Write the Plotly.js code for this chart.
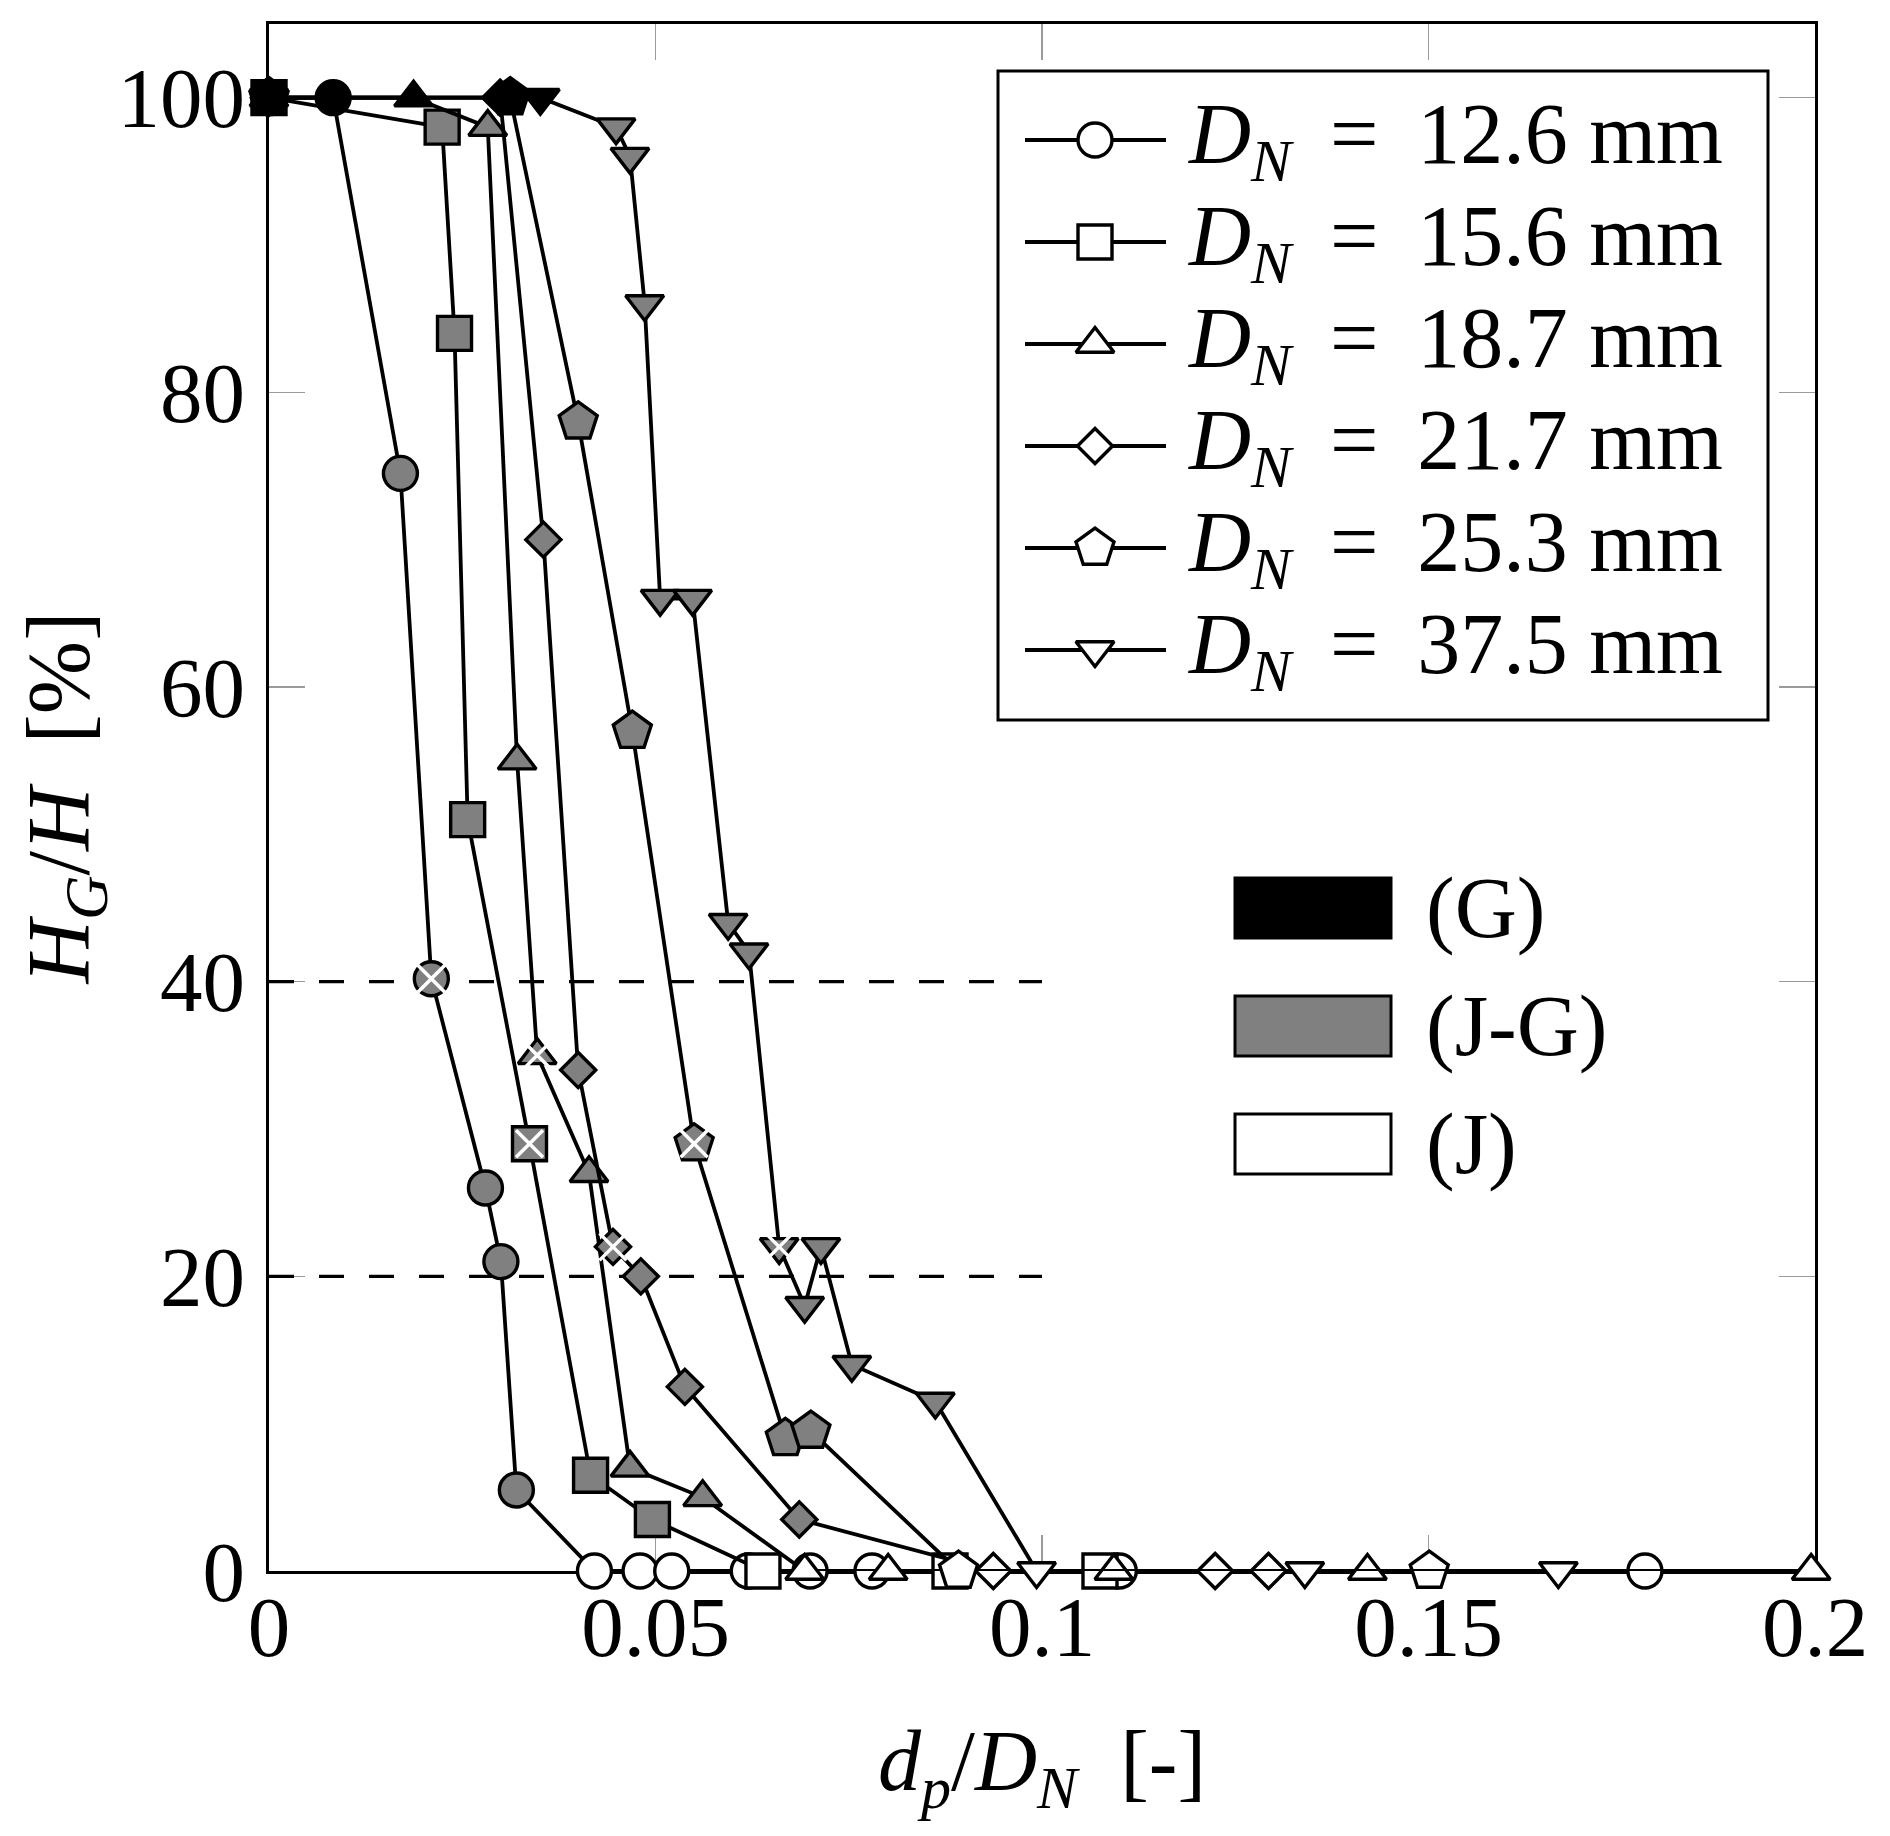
<!DOCTYPE html>
<html>
<head>
<meta charset="utf-8">
<script src="https://cdn.plot.ly/plotly-3.0.1.min.js"></script>
<style>
  html, body { margin: 0; padding: 0; background: #ffffff; }
  #chart { width: 1890px; height: 1836px; }
</style>
</head>
<body>
<div id="chart"></div>
<script>
// ---------------------------------------------------------------
// Gas fraction H_G/H versus particle-to-nozzle diameter ratio d_p/D_N
// Regimes: G = gas, JG = jet-gas transition, J = jet
// ---------------------------------------------------------------

// D_N = 12.6 mm
const x126 = [0, 0.0083, 0.0170, 0.0210, 0.0280, 0.0300, 0.0320, 0.0421, 0.0480, 0.0521, 0.0620, 0.0700, 0.0780, 0.1100, 0.1780];
const y126 = [100, 100, 74.5, 40.2, 26, 21, 5.5, 0, 0, 0, 0, 0, 0, 0, 0];
const regime126 = ['G', 'G', 'JG', 'JG', 'JG', 'JG', 'JG', 'J', 'J', 'J', 'J', 'J', 'J', 'J', 'J'];
const crossed126 = [3];

// D_N = 15.6 mm
const x156 = [0, 0.0224, 0.0240, 0.0257, 0.0337, 0.0416, 0.0496, 0.0639, 0.0881, 0.1075];
const y156 = [100, 98, 84, 51, 29, 6.5, 3.5, 0, 0, 0];
const regime156 = ['G', 'JG', 'JG', 'JG', 'JG', 'JG', 'JG', 'J', 'J', 'J'];
const crossed156 = [4];

// D_N = 18.7 mm
const x187 = [0, 0.0187, 0.0283, 0.0321, 0.0347, 0.0414, 0.0467, 0.0561, 0.0693, 0.0801, 0.1093, 0.1421, 0.1995];
const y187 = [100, 100, 98, 55, 35, 27, 7, 5, 0, 0, 0, 0, 0];
const regime187 = ['G', 'G', 'JG', 'JG', 'JG', 'JG', 'JG', 'JG', 'J', 'J', 'J', 'J', 'J'];
const crossed187 = [4];

// D_N = 21.7 mm
const x217 = [0, 0.0299, 0.0355, 0.0400, 0.0445, 0.0481, 0.0538, 0.0686, 0.0937, 0.1224, 0.1293];
const y217 = [100, 100, 70, 34, 22, 20, 12.5, 3.5, 0, 0, 0];
const regime217 = ['G', 'G', 'JG', 'JG', 'JG', 'JG', 'JG', 'JG', 'J', 'J', 'J'];
const crossed217 = [4];

// D_N = 25.3 mm
const x253 = [0, 0.0312, 0.0400, 0.0470, 0.0550, 0.0668, 0.0701, 0.0892, 0.1501];
const y253 = [100, 100, 78, 57, 29, 9, 9.5, 0, 0];
const regime253 = ['G', 'G', 'JG', 'JG', 'JG', 'JG', 'JG', 'J', 'J'];
const crossed253 = [4];

// D_N = 37.5 mm
const x375 = [0, 0.0351, 0.0449, 0.0467, 0.0486, 0.0506, 0.0548, 0.0594, 0.0621, 0.0660, 0.0693, 0.0714, 0.0754, 0.0862, 0.0993, 0.1340, 0.1668];
const y375 = [100, 100, 98, 96, 86, 66, 66, 44, 42, 22, 18, 22, 14, 11.5, 0, 0, 0];
const regime375 = ['G', 'G', 'JG', 'JG', 'JG', 'JG', 'JG', 'JG', 'JG', 'JG', 'JG', 'JG', 'JG', 'JG', 'J', 'J', 'J'];
const crossed375 = [9];

const nozzleDiameters = ['12.6', '15.6', '18.7', '21.7', '25.3', '37.5'];

// Dashed guide levels (percent) and their extent along d_p/D_N
const guideLevels = [40, 20];
const guideXEnd = [0.1];

// Axis ticks
const xTickVals = [0, 0.05, 0.1, 0.15, 0.2];
const xTickText = ['0', '0.05', '0.1', '0.15', '0.2'];
const yTickVals = [0, 20, 40, 60, 80, 100];
const yTickText = ['0', '20', '40', '60', '80', '100'];

// Regime legend
const regimeKeys = ['G', 'JG', 'J'];
const regimeNames = ['(G)', '(J-G)', '(J)'];

// ---------------------------------------------------------------
// Styling
// ---------------------------------------------------------------
const FONT = '"Liberation Serif", "Times New Roman", serif';
const regimeFill = { G: '#000000', JG: '#808080', J: '#ffffff' };
const markerStyles = [
  { symbol: 'circle', size: 34 },
  { symbol: 'square', size: 34 },
  { symbol: 'triangle-up', size: 33 },
  { symbol: 'diamond', size: 27 },
  { symbol: 'pentagon', size: 40 },
  { symbol: 'triangle-down', size: 33 }
];

const W = 1890, H = 1836;
const M = { l: 269, r: 75, t: 24, b: 265 };
const plotW = W - M.l - M.r, plotH = H - M.t - M.b;
const px2paperX = px => (px - M.l) / plotW;
const px2paperY = py => (H - M.b - py) / plotH;

const seriesData = [
  { x: x126, y: y126, regime: regime126, crossed: crossed126 },
  { x: x156, y: y156, regime: regime156, crossed: crossed156 },
  { x: x187, y: y187, regime: regime187, crossed: crossed187 },
  { x: x217, y: y217, regime: regime217, crossed: crossed217 },
  { x: x253, y: y253, regime: regime253, crossed: crossed253 },
  { x: x375, y: y375, regime: regime375, crossed: crossed375 }
];

const traces = [];

// dashed guide lines (drawn first, beneath the data)
guideLevels.forEach(level => {
  traces.push({
    type: 'scatter', mode: 'lines',
    x: [0, guideXEnd[0]], y: [level, level],
    line: { color: '#000', width: 3.2, dash: '25px,25px' },
    hoverinfo: 'skip', showlegend: false, cliponaxis: false
  });
});

// data series, each followed by its white cross markers
seriesData.forEach((s, i) => {
  const st = markerStyles[i];
  traces.push({
    type: 'scatter', mode: 'lines+markers',
    name: 'D_N = ' + nozzleDiameters[i] + ' mm',
    x: s.x, y: s.y,
    line: { color: '#000', width: 3.8 },
    marker: {
      symbol: st.symbol, size: st.size,
      color: s.regime.map(r => regimeFill[r]),
      line: { color: '#000', width: 3.4 }
    },
    cliponaxis: false, showlegend: false
  });
  traces.push({
    type: 'scatter', mode: 'markers',
    x: s.crossed.map(k => s.x[k]), y: s.crossed.map(k => s.y[k]),
    marker: { symbol: 'x-thin', size: 27, color: '#fff', line: { color: '#fff', width: 3.5 } },
    cliponaxis: false, showlegend: false, hoverinfo: 'skip'
  });
});

// ---------------------------------------------------------------
// Diameter legend (box, sample lines with markers, labels)
// ---------------------------------------------------------------
const legBox = { x0: 998, x1: 1768, y0: 71, y1: 720 };
const legRow0 = 140, legRowStep = 102;
const legLineX0 = 1025, legLineX1 = 1166, legMarkX = 1095, legTextX = 1186;

const shapes = [{
  type: 'rect', xref: 'paper', yref: 'paper', layer: 'above',
  x0: px2paperX(legBox.x0), x1: px2paperX(legBox.x1),
  y0: px2paperY(legBox.y1), y1: px2paperY(legBox.y0),
  line: { color: '#000', width: 3 }, fillcolor: 'rgba(0,0,0,0)'
}];
const annotations = [];

nozzleDiameters.forEach((d, i) => {
  const yRow = px2paperY(legRow0 + i * legRowStep);
  traces.push({
    type: 'scatter', mode: 'lines+markers', xaxis: 'x2', yaxis: 'y2',
    x: [px2paperX(legLineX0), px2paperX(legMarkX), px2paperX(legLineX1)],
    y: [yRow, yRow, yRow],
    line: { color: '#000', width: 3.8 },
    marker: {
      symbol: markerStyles[i].symbol, size: markerStyles[i].size,
      color: '#fff', opacity: [0, 1, 0],
      line: { color: '#000', width: 3.4 }
    },
    cliponaxis: false, showlegend: false, hoverinfo: 'skip'
  });
  annotations.push({
    xref: 'paper', yref: 'paper', x: px2paperX(legTextX), y: yRow,
    xanchor: 'left', yanchor: 'middle', showarrow: false,
    text: '<i>D</i><sub><i>N</i></sub>\u00a0\u2009=\u00a0\u2009' + d + '\u00a0mm',
    font: { family: FONT, size: 86, color: '#000' }
  });
});

// ---------------------------------------------------------------
// Regime legend (filled rectangles with labels)
// ---------------------------------------------------------------
const regBoxX0 = 1235, regBoxX1 = 1391, regBoxH = 60, regRow0 = 908, regRowStep = 118, regTextX = 1424;
regimeKeys.forEach((k, i) => {
  const cy = regRow0 + i * regRowStep;
  shapes.push({
    type: 'rect', xref: 'paper', yref: 'paper', layer: 'above',
    x0: px2paperX(regBoxX0), x1: px2paperX(regBoxX1),
    y0: px2paperY(cy + regBoxH / 2), y1: px2paperY(cy - regBoxH / 2),
    line: { color: '#000', width: 3 }, fillcolor: regimeFill[k]
  });
  annotations.push({
    xref: 'paper', yref: 'paper', x: px2paperX(regTextX), y: px2paperY(cy),
    xanchor: 'left', yanchor: 'middle', showarrow: false,
    text: regimeNames[i],
    font: { family: FONT, size: 86, color: '#000' }
  });
});

// ---------------------------------------------------------------
// Layout
// ---------------------------------------------------------------
const axisCommon = {
  ticks: 'inside', ticklen: 36, tickwidth: 1.5, tickcolor: '#9a9a9a',
  showline: true, linecolor: '#000', linewidth: 3, mirror: 'allticks',
  showgrid: false, zeroline: false, layer: 'below traces',
  tickfont: { family: FONT, size: 85, color: '#000' },
  fixedrange: true
};

const layout = {
  width: W, height: H,
  margin: { l: M.l, r: M.r, t: M.t, b: M.b, pad: 0 },
  paper_bgcolor: '#ffffff', plot_bgcolor: '#ffffff',
  showlegend: false,
  font: { family: FONT, size: 80, color: '#000' },
  xaxis: Object.assign({}, axisCommon, {
    range: [0, 0.2], tickvals: xTickVals, ticktext: xTickText,
    ticklabelstandoff: -20,
    title: {
      text: '<i>d</i><sub><i>p</i></sub>/<i>D</i><sub><i>N</i></sub>\u00a0\u00a0[-]',
      font: { family: FONT, size: 86, color: '#000' }, standoff: 57
    }
  }),
  yaxis: Object.assign({}, axisCommon, {
    range: [0, 105], tickvals: yTickVals, ticktext: yTickText,
    ticklabelstandoff: 4,
    title: {
      text: '<i>H</i><sub><i>G</i></sub>/<i>H</i>\u00a0\u00a0[%]',
      font: { family: FONT, size: 88, color: '#000' }, standoff: 0
    }
  }),
  xaxis2: { overlaying: 'x', anchor: 'y2', range: [0, 1], visible: false, fixedrange: true },
  yaxis2: { overlaying: 'y', anchor: 'x2', range: [0, 1], visible: false, fixedrange: true },
  shapes: shapes,
  annotations: annotations
};

Plotly.newPlot('chart', traces, layout, { displayModeBar: false, staticPlot: true });
</script>
</body>
</html>
